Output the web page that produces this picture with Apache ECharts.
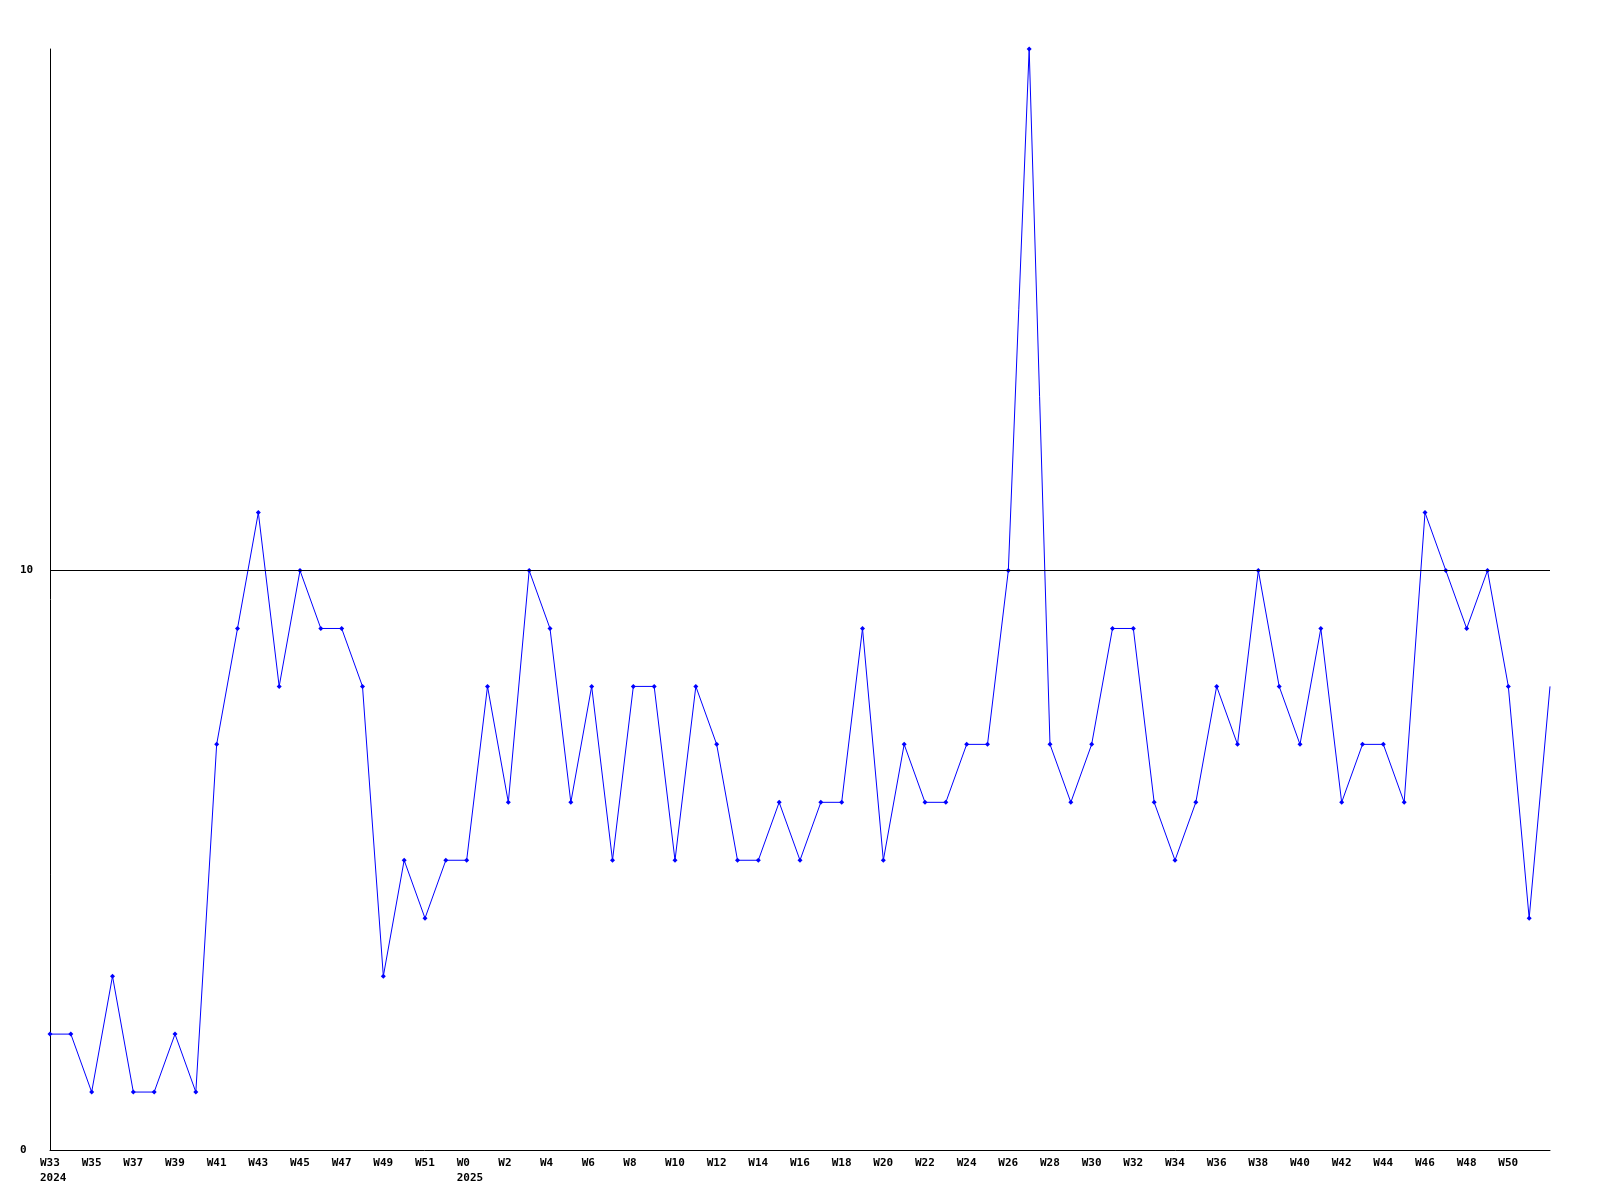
<!DOCTYPE html>
<html>
<head>
<meta charset="utf-8">
<script src="https://cdn.jsdelivr.net/npm/echarts@6/dist/echarts.min.js"></script>
<style>html,body{margin:0;padding:0;background:#fff}#c{width:1600px;height:1200px}</style>
</head>
<body>
<div id="c"></div>
<script>
const weekLabels = [
  'W33','W34','W35','W36','W37','W38','W39','W40','W41','W42','W43','W44','W45','W46','W47','W48','W49','W50','W51','W52',
  'W0','W1','W2','W3','W4','W5','W6','W7','W8','W9','W10','W11','W12','W13','W14','W15','W16','W17','W18','W19',
  'W20','W21','W22','W23','W24','W25','W26','W27','W28','W29','W30','W31','W32','W33','W34','W35','W36','W37','W38','W39',
  'W40','W41','W42','W43','W44','W45','W46','W47','W48','W49','W50','W51','W52'
];
const yearOfPoint = [
  2024,2024,2024,2024,2024,2024,2024,2024,2024,2024,2024,2024,2024,2024,2024,2024,2024,2024,2024,2024,
  2025,2025,2025,2025,2025,2025,2025,2025,2025,2025,2025,2025,2025,2025,2025,2025,2025,2025,2025,2025,
  2025,2025,2025,2025,2025,2025,2025,2025,2025,2025,2025,2025,2025,2025,2025,2025,2025,2025,2025,2025,
  2025,2025,2025,2025,2025,2025,2025,2025,2025,2025,2025,2025,2025
];
const values = [
  2,2,1,3,1,1,2,1,7,9,11,8,10,9,9,8,3,5,4,5,
  5,8,6,10,9,6,8,5,8,8,5,8,7,5,5,6,5,6,6,9,
  5,7,6,6,7,7,10,19,7,6,7,9,9,6,5,6,8,7,10,8,
  7,9,6,7,7,6,11,10,9,10,8,4,8
];
const yTicks = [0, 10];

const categories = weekLabels.map((w, i) => yearOfPoint[i] + '-' + w);
const seriesData = values.map((v, i) => i === values.length - 1 ? {value: v, symbol: 'none'} : v);

const chart = echarts.init(document.getElementById('c'), null, {renderer: 'canvas'});
const font = '"DejaVu Sans Mono", monospace';
chart.setOption({
  backgroundColor: '#ffffff',
  animation: false,
  grid: {left: 50, right: 50, top: 49, bottom: 50},
  xAxis: {
    type: 'category',
    boundaryGap: false,
    data: categories,
    axisLine: {lineStyle: {color: '#000', width: 1}},
    axisTick: {show: false},
    splitLine: {show: false},
    axisLabel: {
      interval: (idx) => idx % 2 === 0 && idx < categories.length - 1,
      align: 'left',
      padding: [0, 0, 0, -10],
      margin: 6,
      color: '#000',
      fontFamily: font,
      fontWeight: 'bold',
      fontSize: 11,
      lineHeight: 15,
      formatter: (val, idx) => {
        const w = weekLabels[idx];
        const first = idx === 0 || yearOfPoint[idx] !== yearOfPoint[idx - 1];
        return first ? w + '\n' + yearOfPoint[idx] : w;
      }
    }
  },
  yAxis: {
    type: 'value',
    min: 0,
    max: 19,
    interval: 10,
    axisLine: {show: true, lineStyle: {color: '#000', width: 1}},
    axisTick: {show: false},
    splitLine: {show: false},
    axisLabel: {
      showMaxLabel: false,
      align: 'left',
      margin: 30,
      color: '#000',
      fontFamily: font,
      fontWeight: 'bold',
      fontSize: 11,
      formatter: (v) => yTicks.includes(v) ? String(v) : ''
    }
  },
  series: [{
    type: 'line',
    data: seriesData,
    symbol: 'diamond',
    symbolSize: 5,
    showSymbol: true,
    lineStyle: {color: '#0000ff', width: 1},
    itemStyle: {color: '#0000ff'},
    markLine: {
      silent: true,
      symbol: 'none',
      label: {show: false},
      lineStyle: {color: '#000', width: 1, type: 'solid'},
      data: [{yAxis: yTicks[1]}]
    }
  }]
});
</script>
</body>
</html>
